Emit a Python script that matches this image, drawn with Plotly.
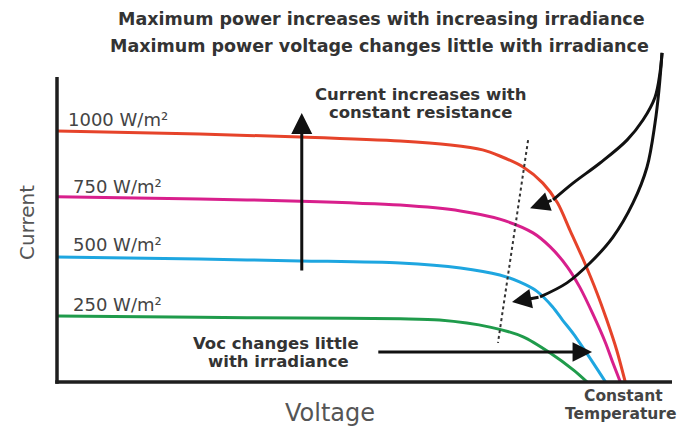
import plotly.graph_objects as go

# ---------------- data (V in volts, I in amps) -------------
v_1000 = [0, 11.6, 19.8, 27.9, 32.0, 34.6, 36.0, 37.9, 39.5, 40.7, 41.7, 42.8, 43.9, 44.7, 45.5, 46.2]
i_1000 = [8.23, 8.13, 8.03, 7.90, 7.77, 7.61, 7.41, 7.05, 6.52, 5.87, 4.98, 4.00, 2.92, 2.03, 1.05, 0]

v_750 = [0, 11.6, 19.8, 27.9, 32.8, 36.0, 38.7, 40.1, 41.5, 42.5, 43.6, 44.6, 45.2, 45.8]
i_750 = [6.07, 6.00, 5.93, 5.80, 5.61, 5.34, 4.89, 4.43, 3.77, 3.11, 2.20, 1.28, 0.62, 0]

v_500 = [0, 11.6, 19.8, 27.9, 32.8, 36.0, 37.6, 39.0, 40.3, 41.1, 42.0, 43.6, 44.6]
i_500 = [4.10, 4.03, 3.97, 3.90, 3.74, 3.51, 3.28, 2.98, 2.46, 2.03, 1.57, 0.62, 0]

v_250 = [0, 11.6, 19.8, 27.9, 31.1, 35.2, 37.9, 40.1, 42.0, 43.1]
i_250 = [2.16, 2.12, 2.10, 2.07, 2.03, 1.80, 1.48, 0.95, 0.39, 0]

curve_labels = ["1000 W/m²", "750 W/m²", "500 W/m²", "250 W/m²"]
curve_colors = ["#e6432a", "#d81f8c", "#1ea6e0", "#1f9b4b"]

# constant-resistance (dotted) line
v_res = [38.3, 35.85]
i_res = [7.93, 1.28]

# "current increases" arrow (tail -> tip)
v_cur_arrow = [19.9, 19.9]
i_cur_arrow = [3.61, 8.82]

# "Voc changes little" arrow (tail -> tip)
v_voc_arrow = [26.0, 43.5]
i_voc_arrow = [0.98, 0.98]

# curved pointer arrows (last point = arrow tip)
v_ptr1 = [49.19, 49.02, 48.62, 47.64, 46.34, 44.15, 41.95, 40.33, 38.46]
i_ptr1 = [10.79, 10.13, 9.34, 8.59, 7.93, 7.18, 6.52, 5.97, 5.70]
v_ptr2 = [49.19, 48.94, 48.62, 47.97, 46.83, 45.20, 43.33, 41.46, 39.27, 36.99]
i_ptr2 = [10.79, 9.57, 8.49, 7.05, 5.87, 4.75, 3.90, 3.25, 2.79, 2.62]

X_MAX = 50.0
I_AXIS_TOP = 10.0
Y_MAX = 12.525

# ---------------- layout geometry ----------------
W, H = 685, 429
ML, MR, MT, MB = 57, 13, 0, 47
PW, PH = W - ML - MR, H - MT - MB


def px(xp, yp):
    """pixel position -> paper coordinates (for text placement)"""
    return (xp - ML) / PW, (H - MB - yp) / PH


fig = go.Figure()

for vs, cs, col in zip([v_1000, v_750, v_500, v_250], [i_1000, i_750, i_500, i_250], curve_colors):
    fig.add_trace(go.Scatter(x=vs, y=cs, mode="lines",
                             line=dict(color=col, width=3, shape="spline", smoothing=0.8),
                             hoverinfo="skip", showlegend=False))

fig.add_trace(go.Scatter(x=v_res, y=i_res, mode="lines",
                         line=dict(color="#333333", width=2, dash="dot"),
                         hoverinfo="skip", showlegend=False))

for vs, cs in [(v_ptr1, i_ptr1), (v_ptr2, i_ptr2)]:
    fig.add_trace(go.Scatter(x=vs[:-1], y=cs[:-1], mode="lines",
                             line=dict(color="#111111", width=3, shape="spline", smoothing=1),
                             hoverinfo="skip", showlegend=False))

annotations = []


def arrow(vs, cs, size):
    annotations.append(dict(x=vs[-1], y=cs[-1], ax=vs[-2], ay=cs[-2],
                            xref="x", yref="y", axref="x", ayref="y",
                            text="", showarrow=True, arrowhead=2, arrowsize=size,
                            arrowwidth=3, arrowcolor="#111111"))


arrow(v_cur_arrow, i_cur_arrow, 1.4)
arrow(v_voc_arrow, i_voc_arrow, 1.3)
arrow(v_ptr1, i_ptr1, 1.3)
arrow(v_ptr2, i_ptr2, 1.3)


def text(t, xp, yp, size, color, bold=False, anchor="center", angle=0):
    x, y = px(xp, yp)
    annotations.append(dict(x=x, y=y, xref="paper", yref="paper",
                            text=("<b>%s</b>" % t) if bold else t,
                            showarrow=False, xanchor=anchor, yanchor="middle",
                            textangle=angle, borderpad=0,
                            font=dict(family="DejaVu Sans", size=size, color=color)))


BOLD_SIZE = 17.5
text("Maximum power increases with increasing irradiance", 381, 19, BOLD_SIZE, "#333333", True)
text("Maximum power voltage changes little with irradiance", 379, 46, BOLD_SIZE, "#333333", True)
text("Current increases with", 420, 95, 16.5, "#333333", True)
text("constant resistance", 420, 113, 16.5, "#333333", True)
text("Voc changes little", 276, 343, 16.5, "#333333", True)
text("with irradiance", 278, 361, 16.5, "#333333", True)

label_pos = [(67, 119), (72, 186), (72, 244), (72, 304)]
for lab, (lx, ly) in zip(curve_labels, label_pos):
    text(lab, lx, ly, 18, "#444444", anchor="left")

text("Current", 27, 223, 20, "#555555", angle=-90)
text("Voltage", 330, 413, 24, "#555555")
text("Constant", 623, 396.5, 15.5, "#444444", True)
text("Temperature", 621, 414.5, 15.5, "#444444", True)

# axis lines
ax_top_paper = I_AXIS_TOP / Y_MAX
shapes = [
    dict(type="line", xref="paper", yref="paper", x0=0, x1=0, y0=-1.75 / PH, y1=ax_top_paper,
         line=dict(color="#1e1e1e", width=3.5), layer="above"),
    dict(type="line", xref="paper", yref="paper", x0=-1.75 / PW, x1=1, y0=0, y1=0,
         line=dict(color="#1e1e1e", width=3.5), layer="above"),
]

fig.update_layout(
    width=W, height=H,
    margin=dict(l=ML, r=MR, t=MT, b=MB),
    paper_bgcolor="white", plot_bgcolor="white",
    xaxis=dict(range=[0, X_MAX], visible=False, fixedrange=True),
    yaxis=dict(range=[0, Y_MAX], visible=False, fixedrange=True),
    annotations=annotations, shapes=shapes,
    showlegend=False,
)

fig.write_html("out.html", config={"displayModeBar": False},
               post_script="document.body.style.margin='0';document.body.style.overflow='hidden';")
